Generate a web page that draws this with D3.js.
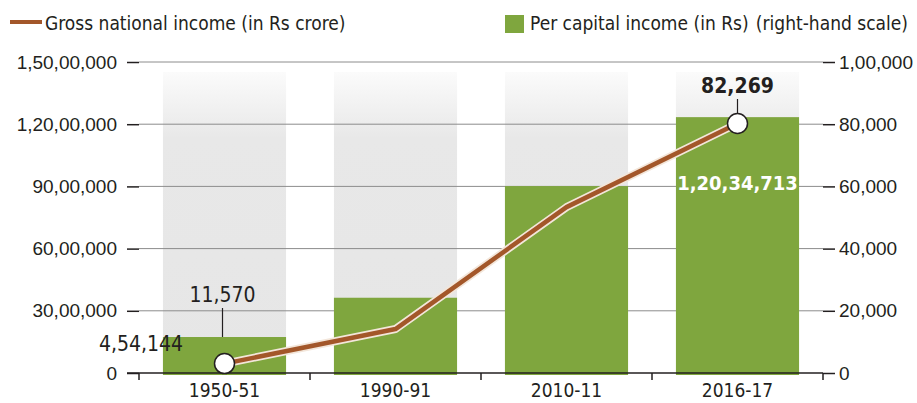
<!DOCTYPE html>
<html lang="en">
<head>
<meta charset="UTF-8">
<title>GNI and per capita income</title>
<style>
    body { margin: 0; background: #fff; }
    svg { display: block; font-family: "DejaVu Sans Condensed", "DejaVu Sans", sans-serif; font-stretch: condensed; }
    text { fill: #231f20; }
</style>
</head>
<body>
<div id="chart"></div>
<script src="https://d3js.org/d3.v7.min.js"></script>
<script>
    const years = ['1950-51', '1990-91', '2010-11', '2016-17'];
    const gni = [454144, 2120000, 8000000, 12034713];      // Rs crore, left scale
    const perCapita = [11570, 24200, 60100, 82269];         // Rs, right scale
    const leftTicks = [0, 3000000, 6000000, 9000000, 12000000, 15000000];
    const rightTicks = [0, 20000, 40000, 60000, 80000, 100000];

    const width = 917, height = 403;
    const x0 = 139, x1 = 823, yTop = 62, yBase = 373;
    const fs = 19;

    // indian digit grouping, e.g. 1,20,34,713
    function inr(n) {
        const s = String(Math.round(n));
        if (s.length <= 3) return s;
        const last = s.slice(-3);
        const rest = s.slice(0, -3).replace(/\B(?=(\d{2})+(?!\d))/g, ',');
        return rest + ',' + last;
    }

    const svg = d3.select('#chart').append('svg')
        .attr('width', width).attr('height', height);

    const x = d3.scaleBand().domain(years).range([x0, x1])
        .paddingInner(0.28).paddingOuter(0.14);
    const yL = d3.scaleLinear().domain([0, 15000000]).range([yBase, yTop]);
    const yR = d3.scaleLinear().domain([0, 100000]).range([yBase, yTop]);

    const defs = svg.append('defs');
    const grad = defs.append('linearGradient').attr('id', 'bg')
        .attr('x1', 0).attr('y1', 0).attr('x2', 0).attr('y2', 1);
    grad.append('stop').attr('offset', '0%').attr('stop-color', '#fbfbfb');
    grad.append('stop').attr('offset', '22%').attr('stop-color', '#e8e8e8');
    grad.append('stop').attr('offset', '100%').attr('stop-color', '#e6e6e6');

    // grey background columns
    svg.append('g').selectAll('rect').data(years).enter().append('rect')
        .attr('x', d => x(d)).attr('y', yTop + 10)
        .attr('width', x.bandwidth()).attr('height', yBase - yTop - 10)
        .attr('fill', 'url(#bg)');

    // gridlines
    svg.append('g').selectAll('line').data(leftTicks.slice(1)).enter().append('line')
        .attr('x1', x0).attr('x2', x1)
        .attr('y1', d => yL(d)).attr('y2', d => yL(d))
        .attr('stroke', '#8c8c8c').attr('stroke-width', 1);

    // bars
    svg.append('g').selectAll('rect').data(perCapita).enter().append('rect')
        .attr('x', (d, i) => x(years[i]))
        .attr('y', d => yR(d))
        .attr('width', x.bandwidth())
        .attr('height', d => yBase - yR(d) + 2)
        .attr('fill', '#7fa63e');

    // left axis
    const left = svg.append('g').attr('transform', `translate(${x0},0)`)
        .call(d3.axisLeft(yL).tickValues(leftTicks).tickSize(12).tickPadding(10).tickFormat(inr));
    left.select('.domain').remove();
    left.selectAll('line').attr('stroke', '#231f20').attr('stroke-width', 1.5);
    left.selectAll('text').attr('font-size', fs).attr('fill', '#231f20').attr('font-family', null);

    // right axis
    const right = svg.append('g').attr('transform', `translate(${x1},0)`)
        .call(d3.axisRight(yR).tickValues(rightTicks).tickSize(12).tickPadding(4).tickFormat(inr));
    right.select('.domain').remove();
    right.selectAll('line').attr('stroke', '#231f20').attr('stroke-width', 1.5);
    right.selectAll('text').attr('font-size', fs).attr('fill', '#231f20').attr('font-family', null);

    // bottom axis
    svg.append('line').attr('x1', x0 - 12).attr('x2', x1)
        .attr('y1', yBase).attr('y2', yBase)
        .attr('stroke', '#231f20').attr('stroke-width', 1.5);
    const bounds = d3.range(years.length + 1).map(i => x0 + i * x.step());
    svg.append('g').selectAll('line').data(bounds).enter().append('line')
        .attr('x1', d => d).attr('x2', d => d)
        .attr('y1', yBase).attr('y2', yBase + 7)
        .attr('stroke', '#231f20').attr('stroke-width', 1.5);
    svg.append('g').selectAll('text').data(years).enter().append('text')
        .attr('x', d => x(d) + x.bandwidth() / 2).attr('y', 397)
        .attr('text-anchor', 'middle').attr('font-size', fs)
        .text(d => d);

    // GNI line
    const cx = (d, i) => x(years[i]) + x.bandwidth() / 2;
    const line = d3.line().x(cx).y(d => yL(d));
    svg.append('path').datum(gni).attr('d', line)
        .attr('fill', 'none').attr('stroke', '#f3e6da').attr('stroke-width', 8)
        .attr('stroke-linejoin', 'round');
    svg.append('path').datum(gni).attr('d', line)
        .attr('fill', 'none').attr('stroke', '#a3572a').attr('stroke-width', 4.5)
        .attr('stroke-linejoin', 'round');

    // leader lines + end point markers
    const ends = [0, years.length - 1];
    svg.append('line')
        .attr('x1', cx(null, 0) - 2).attr('x2', cx(null, 0) - 2)
        .attr('y1', 308).attr('y2', yR(perCapita[0]))
        .attr('stroke', '#231f20').attr('stroke-width', 1.2);
    svg.append('line')
        .attr('x1', cx(null, 3)).attr('x2', cx(null, 3))
        .attr('y1', 99).attr('y2', yL(gni[3]) - 10)
        .attr('stroke', '#231f20').attr('stroke-width', 1.2);
    svg.append('g').selectAll('circle').data(ends).enter().append('circle')
        .attr('cx', i => cx(null, i)).attr('cy', i => yL(gni[i]))
        .attr('r', 10).attr('fill', '#fff')
        .attr('stroke', '#231f20').attr('stroke-width', 1.5);

    // value labels
    svg.append('text').attr('x', cx(null, 0) - 2).attr('y', 302)
        .attr('text-anchor', 'middle').attr('font-size', 21).text(inr(perCapita[0]));
    svg.append('text').attr('x', 141).attr('y', 351)
        .attr('text-anchor', 'middle').attr('font-size', 21).text(inr(gni[0]));
    svg.append('text').attr('x', cx(null, 3)).attr('y', 93)
        .attr('text-anchor', 'middle').attr('font-size', 21).attr('font-weight', 'bold')
        .text(inr(perCapita[3]));
    svg.append('text').attr('x', cx(null, 3)).attr('y', 190)
        .attr('text-anchor', 'middle').attr('font-size', 20).attr('font-weight', 'bold')
        .style('fill', '#fff').text(inr(gni[3]));

    // legend
    svg.append('line').attr('x1', 10).attr('x2', 42).attr('y1', 22).attr('y2', 22)
        .attr('stroke', '#a3572a').attr('stroke-width', 4);
    svg.append('text').attr('x', 45).attr('y', 30).attr('font-size', fs)
        .text('Gross national income (in Rs crore)');
    svg.append('rect').attr('x', 505).attr('y', 15).attr('width', 19).attr('height', 18)
        .attr('fill', '#7fa63e');
    svg.append('text').attr('x', 530).attr('y', 30).attr('font-size', fs)
        .text('Per capital income (in Rs)');
    svg.append('text').attr('x', 908).attr('y', 30).attr('font-size', fs)
        .attr('text-anchor', 'end').text('(right-hand scale)');
</script>
</body>
</html>
